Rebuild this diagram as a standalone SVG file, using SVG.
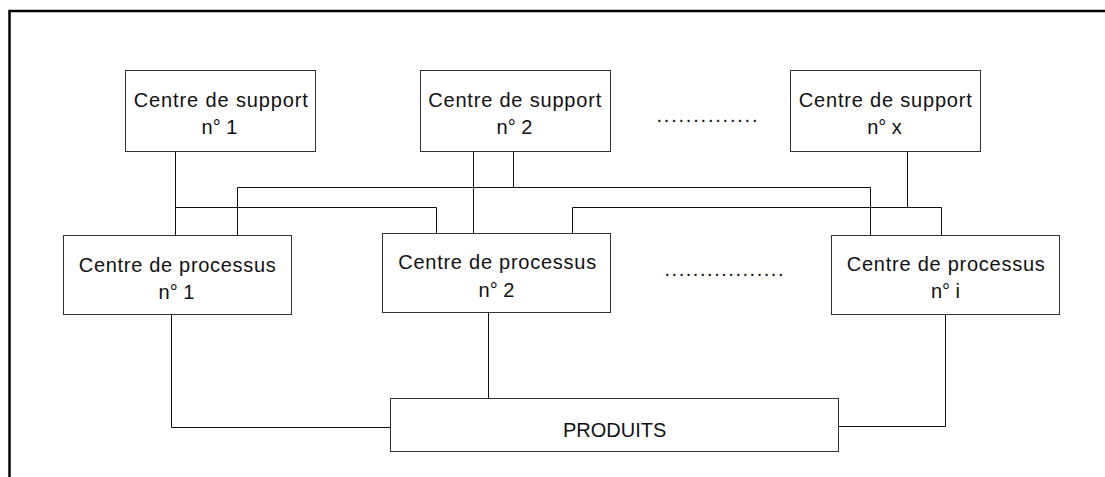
<svg xmlns="http://www.w3.org/2000/svg" width="1105" height="477" viewBox="0 0 1105 477">
<style>
.box{fill:#fff;stroke:#333;stroke-width:1}
.t{font-family:"Liberation Sans",Arial,sans-serif;font-size:20px;fill:#111;text-anchor:middle}
.d{font-family:"Liberation Sans",Arial,sans-serif;font-size:20px;fill:#111}
.c{fill:none;stroke:#111;stroke-width:1}
.f{fill:none;stroke:#000;stroke-width:2.5}
</style>
<rect width="1105" height="477" fill="#fff"/>
<path class="f" d="M9.5,477 V11 H1105"/>
<g id="connectors">
<path class="c" d="M175.5,151.5 V235.5 M175.5,207.5 H436.5 V233.5"/>
<path class="c" d="M513.5,151.5 V187.5 M237.5,235.5 V187.5 H870.5 V235.5"/>
<path class="c" d="M473.5,151.5 V233.5"/>
<path class="c" d="M907.5,151.5 V207.5 M572.5,233.5 V207.5 H941.5 V235.5"/>
<path class="c" d="M171.5,315 V427.5 H390.5"/>
<path class="c" d="M488.5,313 V398.5"/>
<path class="c" d="M945.5,315 V426.5 H838.5"/>
</g>
<g id="support1">
<rect class="box" x="125.5" y="70.5" width="190" height="81"/>
<text class="t" x="220.8" y="106.7" textLength="174" lengthAdjust="spacing">Centre de support</text>
<text class="t" x="219.5" y="134.3">n° 1</text>
</g>
<g id="support2">
<rect class="box" x="420.5" y="70.5" width="190" height="81"/>
<text class="t" x="514.7" y="106.7" textLength="173" lengthAdjust="spacing">Centre de support</text>
<text class="t" x="514.5" y="134.3">n° 2</text>
</g>
<g id="supportx">
<rect class="box" x="790.5" y="70.5" width="190" height="81"/>
<text class="t" x="885.3" y="106.7" textLength="173" lengthAdjust="spacing">Centre de support</text>
<text class="t" x="884.5" y="134.3">n° x</text>
</g>
<g id="dots1">
<text class="d" x="656.5" y="121.5" textLength="101" lengthAdjust="spacing">..............</text>
</g>
<g id="process1">
<rect class="box" x="63.5" y="235.5" width="228" height="79"/>
<text class="t" x="177.3" y="271.7" textLength="197" lengthAdjust="spacing">Centre de processus</text>
<text class="t" x="176.5" y="299">n° 1</text>
</g>
<g id="process2">
<rect class="box" x="382.5" y="233.5" width="228" height="79"/>
<text class="t" x="497.2" y="269" textLength="198" lengthAdjust="spacing">Centre de processus</text>
<text class="t" x="496.5" y="296.7">n° 2</text>
</g>
<g id="dots2">
<text class="d" x="664.5" y="276" textLength="119" lengthAdjust="spacing">.................</text>
</g>
<g id="processi">
<rect class="box" x="831.5" y="235.5" width="228" height="79"/>
<text class="t" x="945.8" y="270.7" textLength="198" lengthAdjust="spacing">Centre de processus</text>
<text class="t" x="945.5" y="297.7">n° i</text>
</g>
<g id="produits">
<rect class="box" x="390.5" y="398.5" width="448" height="53"/>
<text class="t" x="614.7" y="437.3">PRODUITS</text>
</g>
</svg>
